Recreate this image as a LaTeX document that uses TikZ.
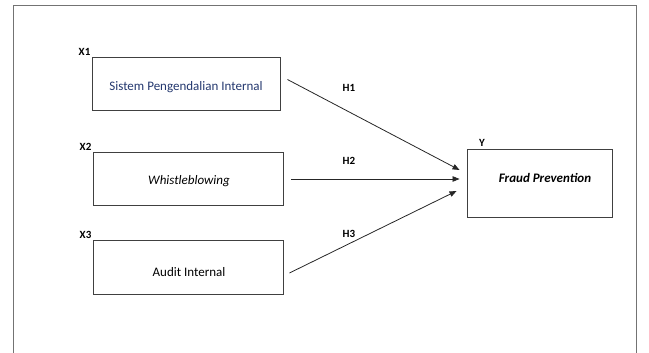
\documentclass[tikz,border=0pt]{standalone}
\usepackage{fontspec}
\setmainfont{Carlito}
\usetikzlibrary{arrows.meta}
\definecolor{spiblue}{RGB}{35,55,110}
\tikzset{
  varbox/.style={draw=black!75,line width=0.9pt,minimum width=#1,minimum height=53pt,inner sep=0pt},
  vartext/.style={font=\fontsize{13}{15}\selectfont},
  tag/.style={font=\fontsize{11}{13}\selectfont\bfseries,inner sep=1pt},
  hyp/.style={draw=black!85,line width=0.8pt,-{Triangle[length=7pt,width=5.5pt]}}
}
\begin{document}
\begin{tikzpicture}[x=1pt,y=-1pt]
  \useasboundingbox (0,0) rectangle (649,353);
  % Frame
  \draw[draw=black!55,line width=0.9pt] (13,353) -- (13,5) -- (636,5) -- (636,353);
  % Variables
  \node[varbox=188pt] (spi) at (186,83.5) {};
  \node[vartext,text=spiblue] (spitxt) at (186,87) {Sistem Pengendalian Internal};
  \node[varbox=190pt] (wb) at (188,178.5) {};
  \node[vartext] (wbtxt) at (189,181) {\itshape Whistleblowing};
  \node[varbox=190pt,minimum height=54pt] (ai) at (188,267) {};
  \node[vartext] (aitxt) at (189,272) {Audit Internal};
  \node[varbox=145pt,minimum height=68pt] (fp) at (539.5,183) {};
  \node[vartext] (fptxt) at (545,178) {\bfseries\itshape Fraud Prevention};
  % Labels
  \node[tag,anchor=south east] (x1) at (spi.north west) {X1};
  \node[tag,anchor=south east] (x2) at (wb.north west) {X2};
  \node[tag,anchor=south east] (x3) at (ai.north west) {X3};
  \node[tag] (y) at (482,143) {Y};
  % Hypotheses
  \draw[hyp] ([shift={(7,-4)}]spi.east) -- ([shift={(-7,-13)}]fp.west);
  \draw[hyp] ([shift={(8,0.5)}]wb.east) -- ([shift={(-7,-4)}]fp.west);
  \draw[hyp] ([shift={(6,6)}]ai.east) -- ([shift={(-10,8)}]fp.west);
  \node[tag] (h1) at (349,88) {H1};
  \node[tag] (h2) at (349,161) {H2};
  \node[tag] (h3) at (349,234) {H3};
\end{tikzpicture}
\end{document}
